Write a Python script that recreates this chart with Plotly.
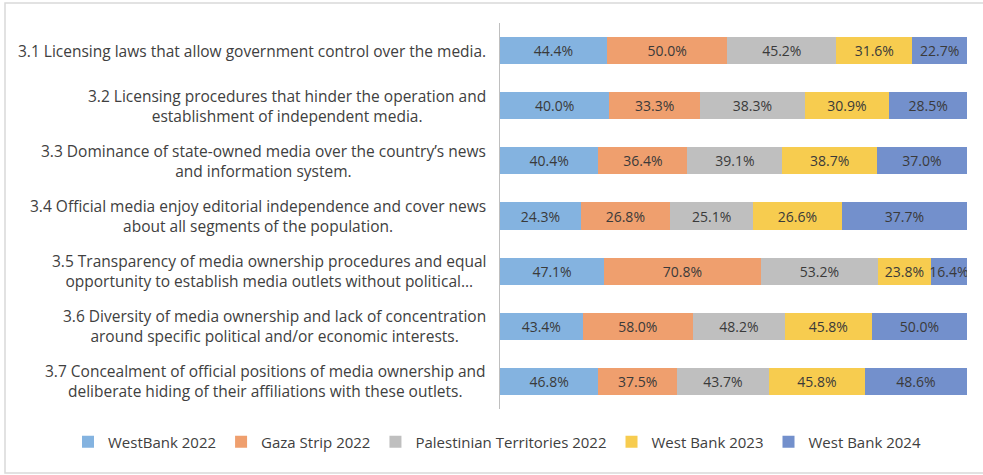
import plotly.graph_objects as go

categories = [
    "3.1 Licensing laws that allow government control over the media.",
    "3.2 Licensing procedures that hinder the operation and<br>establishment of independent media.",
    "3.3 Dominance of state-owned media over the country\u2019s news<br>and information system.",
    "3.4 Official media enjoy editorial independence and cover news<br>about all segments of the population.",
    "3.5 Transparency of media ownership procedures and equal<br>opportunity to establish media outlets without political\u2026",
    "3.6 Diversity of media ownership and lack of concentration<br>around specific political and/or economic interests.",
    "3.7 Concealment of official positions of media ownership and<br>deliberate hiding of their affiliations with these outlets.",
]
series_names = ["WestBank 2022", "Gaza Strip 2022", "Palestinian Territories 2022",
                "West Bank 2023", "West Bank 2024"]
westbank_2022 = [44.4, 40.0, 40.4, 24.3, 47.1, 43.4, 46.8]
gaza_2022 = [50.0, 33.3, 36.4, 26.8, 70.8, 58.0, 37.5]
pal_territories_2022 = [45.2, 38.3, 39.1, 25.1, 53.2, 48.2, 43.7]
westbank_2023 = [31.6, 30.9, 38.7, 26.6, 23.8, 45.8, 45.8]
westbank_2024 = [22.7, 28.5, 37.0, 37.7, 16.4, 50.0, 48.6]

series_values = [westbank_2022, gaza_2022, pal_territories_2022, westbank_2023, westbank_2024]
colors = ["#84B3E0", "#EF9F6E", "#BFBFBF", "#F7CC4F", "#7390CC"]

FONT = "'Open Sans', Lato, sans-serif"
TXT = "#404040"

cat_ids = list(range(len(categories)))

W, H = 983, 475
ml, mr, mt, mb = 5, 5, 23, 66
pw, ph = W - ml - mr, H - mt - mb
plot_x0, plot_x1 = 500, 967

fig = go.Figure()
for name, vals, col in zip(series_names, series_values, colors):
    fig.add_trace(go.Bar(
        y=cat_ids, x=vals, name=name, orientation="h",
        marker=dict(color=col, line=dict(width=0)),
        text=vals, texttemplate="%{text:.1f}%", textposition="inside",
        insidetextanchor="middle", constraintext="none",
        textfont=dict(family=FONT, size=14, color="#3A3A3A"),
    ))

for i, c in enumerate(categories):
    fig.add_annotation(
        x=0, y=i, xref="x domain", yref="y", text=c, showarrow=False,
        xanchor="right", yanchor="middle", align="center", xshift=-12,
        font=dict(family=FONT, size=15.5, color=TXT),
    )

# outer frame of the chart box
fig.add_shape(type="rect", xref="paper", yref="paper",
              x0=(5 - ml) / pw, x1=(995 - ml) / pw,
              y0=(H - mb - 473) / ph, y1=(H - mb - 3) / ph,
              line=dict(color="#D9D9D9", width=1.5), fillcolor="rgba(0,0,0,0)", layer="below")

fig.update_layout(
    width=W, height=H,
    margin=dict(l=ml, r=mr, t=mt, b=mb, autoexpand=False),
    barmode="stack", barnorm="percent", bargap=0.51,
    paper_bgcolor="white", plot_bgcolor="white",
    font=dict(family=FONT, color=TXT),
    uniformtext=dict(minsize=8, mode="show"),
    xaxis=dict(domain=[(plot_x0 - ml) / pw, (plot_x1 - ml) / pw], range=[0, 100],
               showgrid=False, showticklabels=False, zeroline=False,
               showline=False, fixedrange=True),
    yaxis=dict(autorange="reversed", showticklabels=False, showgrid=False, zeroline=False,
               showline=True, linecolor="#BFBFBF", linewidth=1, ticks=""),
    legend=dict(orientation="h", x=(497 - ml) / pw, xanchor="center",
                y=(H - mb - 442) / ph, yanchor="middle",
                font=dict(family=FONT, size=15, color=TXT),
                traceorder="normal", itemwidth=30),
    showlegend=True,
)

fig.write_html("out.html", config={"displayModeBar": False},
               post_script="document.body.style.margin='0';")
